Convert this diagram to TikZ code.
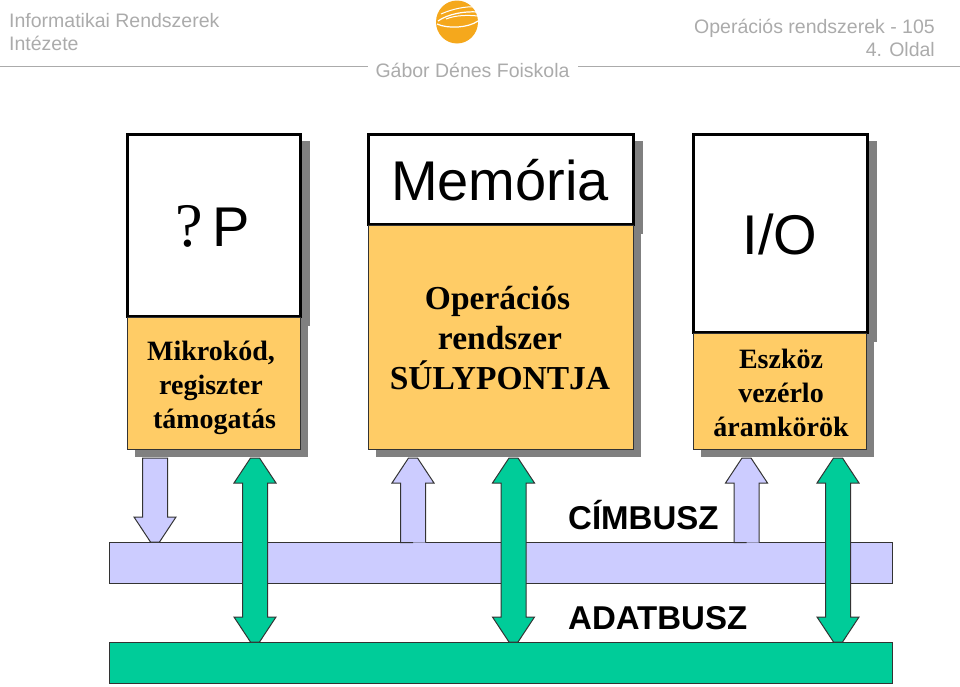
\documentclass[tikz,border=0pt]{standalone}
\usepackage{fontspec}
\setmainfont{Liberation Sans}
\newfontfamily\timesfont{Liberation Serif}
\usetikzlibrary{shadows, calc}
\definecolor{boxorange}{HTML}{FFCC66}
\definecolor{cimlilac}{HTML}{CCCCFF}
\definecolor{adatgreen}{HTML}{00CC99}
\definecolor{shadowgray}{HTML}{808080}
\definecolor{headgray}{HTML}{ABABAB}
\definecolor{logoorange}{HTML}{F5A81C}
\tikzset{
    x=1pt, y=-1pt,
    % Upper white part of a block
    white box/.style={rectangle, draw=black, fill=white, line width=3pt, outer sep=0pt, anchor=north west,
        drop shadow={shadow xshift=8pt, shadow yshift=-8pt, fill=shadowgray, draw=shadowgray, opacity=1}},
    % Lower orange part of a block
    orange box/.style={rectangle, draw=black!80, fill=boxorange, line width=1pt, outer sep=0pt, anchor=north west,
        drop shadow={shadow xshift=8pt, shadow yshift=-8pt, fill=shadowgray, opacity=1}},
    % Text styles
    title text/.style={font=\fontsize{56}{56}\selectfont, inner sep=0pt, anchor=base},
    small text/.style={font=\timesfont\bfseries\fontsize{28}{34}\selectfont, align=center, inner sep=0pt},
    big text/.style={font=\timesfont\bfseries\fontsize{33.5}{40}\selectfont, align=center, inner sep=0pt},
    head text/.style={font=\fontsize{19.5}{23}\selectfont, text=headgray, inner sep=0pt},
    % Bus bars
    bus/.style={rectangle, draw=black!80, line width=1pt, outer sep=0pt, anchor=north west, minimum width=783pt, minimum height=41pt},
    bus label/.style={font=\bfseries\fontsize{33}{33}\selectfont, inner sep=0pt, anchor=base west},
    % Block arrows between two points
    up arrow/.style={draw=black!80, line width=1pt, fill=cimlilac, to path={
        -- ($(\tikztostart)+(-12.5,0)$) -- ($(\tikztotarget)+(-12.5,25)$) -- ($(\tikztotarget)+(-21,25)$)
        -- ($(\tikztotarget)+(-4.5,0)$) -- ($(\tikztotarget)+(4.5,0)$)
        -- ($(\tikztotarget)+(21,25)$) -- ($(\tikztotarget)+(12.5,25)$) -- ($(\tikztostart)+(12.5,0)$)}},
    down arrow/.style={draw=black!80, line width=1pt, fill=cimlilac, to path={
        -- ($(\tikztostart)+(-12.5,0)$) -- ($(\tikztotarget)+(-12.5,-25)$) -- ($(\tikztotarget)+(-21,-25)$)
        -- ($(\tikztotarget)+(-4.5,0)$) -- ($(\tikztotarget)+(4.5,0)$)
        -- ($(\tikztotarget)+(21,-25)$) -- ($(\tikztotarget)+(12.5,-25)$) -- ($(\tikztostart)+(12.5,0)$) -- cycle}},
    both arrow/.style={draw=black!80, line width=1pt, fill=adatgreen, to path={
        -- ($(\tikztostart)+(4.5,0)$) -- ($(\tikztostart)+(21,25)$) -- ($(\tikztostart)+(12.5,25)$)
        -- ($(\tikztotarget)+(12.5,-25)$) -- ($(\tikztotarget)+(21,-25)$) -- ($(\tikztotarget)+(4.5,0)$)
        -- ($(\tikztotarget)+(-4.5,0)$) -- ($(\tikztotarget)+(-21,-25)$) -- ($(\tikztotarget)+(-12.5,-25)$)
        -- ($(\tikztostart)+(-12.5,25)$) -- ($(\tikztostart)+(-21,25)$) -- ($(\tikztostart)+(-4.5,0)$) -- cycle}}
}

\begin{document}
\begin{tikzpicture}
    \useasboundingbox (0,0) rectangle (960,686);

    % --- Page header ---
    \node[head text, anchor=base west] (inst1) at (9,27) {Informatikai Rendszerek};
    \node[head text, anchor=base west] (inst2) at (9,50) {Intézete};
    \node[head text, anchor=base] (school) at (472.5,77) {Gábor Dénes Foiskola};
    \node[head text, anchor=base east] (course) at (935,33) {Operációs rendszerek - 105};
    \node[head text, anchor=base east] (page) at (935,56) {4. Oldal};
    \draw[headgray, line width=0.8pt] (0,66) -- (368,66);
    \draw[headgray, line width=0.8pt] (578,66) -- (960,66);

    % Logo
    \fill[logoorange] (457,22) ellipse (21 and 21.5);
    \draw[white, line width=1pt] (441,14) .. controls (452,9) and (466,6) .. (476,7);
    \draw[white, line width=1.2pt] (438,21) .. controls (448,14) and (464,11) .. (478,12);
    \draw[white, line width=1pt] (446,19) .. controls (456,15) and (468,15) .. (478,16);
    \draw[white, line width=1.2pt] (437,24) .. controls (448,29) and (468,28) .. (478,21);

    % --- Blocks ---
    \node[white box, minimum width=173pt, minimum height=182pt] (cpu) at (127,134) {};
    \node[orange box, minimum width=173pt, minimum height=132pt] (cpucode) at (127,317) {};
    \node[white box, minimum width=265pt, minimum height=90pt] (mem) at (368,134) {};
    \node[orange box, minimum width=265pt, minimum height=224pt] (memos) at (368,225) {};
    \node[white box, minimum width=174pt, minimum height=198pt] (io) at (693,134) {};
    \node[orange box, minimum width=173pt, minimum height=116pt] (iodrv) at (693,333) {};

    % Block texts
    \node[title text] (cputext) at (213,246) {{\timesfont\fontsize{62}{62}\selectfont ?}\,P};
    \node[title text] (memtext) at (500,200) {Memória};
    \node[title text] (iotext) at (780,254.5) {I/O};
    \node[small text] (cpucodetext) at (211,388) {Mikrokód,\\regiszter\\\hspace*{7pt}támogatás};
    \node[big text] (memostext) at (500,338) {Operációs\hspace*{5pt}\\rendszer\\SÚLYPONTJA};
    \node[small text] (iodrvtext) at (781,393) {Eszköz\\vezérlo\\áramkörök};

    % --- Buses ---
    \node[bus, fill=cimlilac] (cimbus) at (109,542) {};
    \node[bus, fill=adatgreen] (adatbus) at (109,642) {};
    \node[bus label] (cimtext) at (568,529) {CÍMBUSZ};
    \node[bus label] (adattext) at (568,629) {ADATBUSZ};

    % --- Arrow positions ---
    \coordinate (C1) at (155,458);
    \coordinate (D1) at (255,458);
    \coordinate (C2) at (413,458);
    \coordinate (D2) at (513.5,458);
    \coordinate (C3) at (746.5,458);
    \coordinate (D3) at (838,458);

    % --- Address arrows ---
    \draw[down arrow] (C1) to (C1 |- cimbus.north);
    \draw[up arrow] ($(C2 |- cimbus.north)+(0,0.5)$) to (C2);
    \draw[up arrow] ($(C3 |- cimbus.north)+(0,0.5)$) to (C3);

    % --- Data arrows ---
    \draw[both arrow] (D1) to (D1 |- adatbus.north);
    \draw[both arrow] (D2) to (D2 |- adatbus.north);
    \draw[both arrow] (D3) to (D3 |- adatbus.north);
\end{tikzpicture}
\end{document}
